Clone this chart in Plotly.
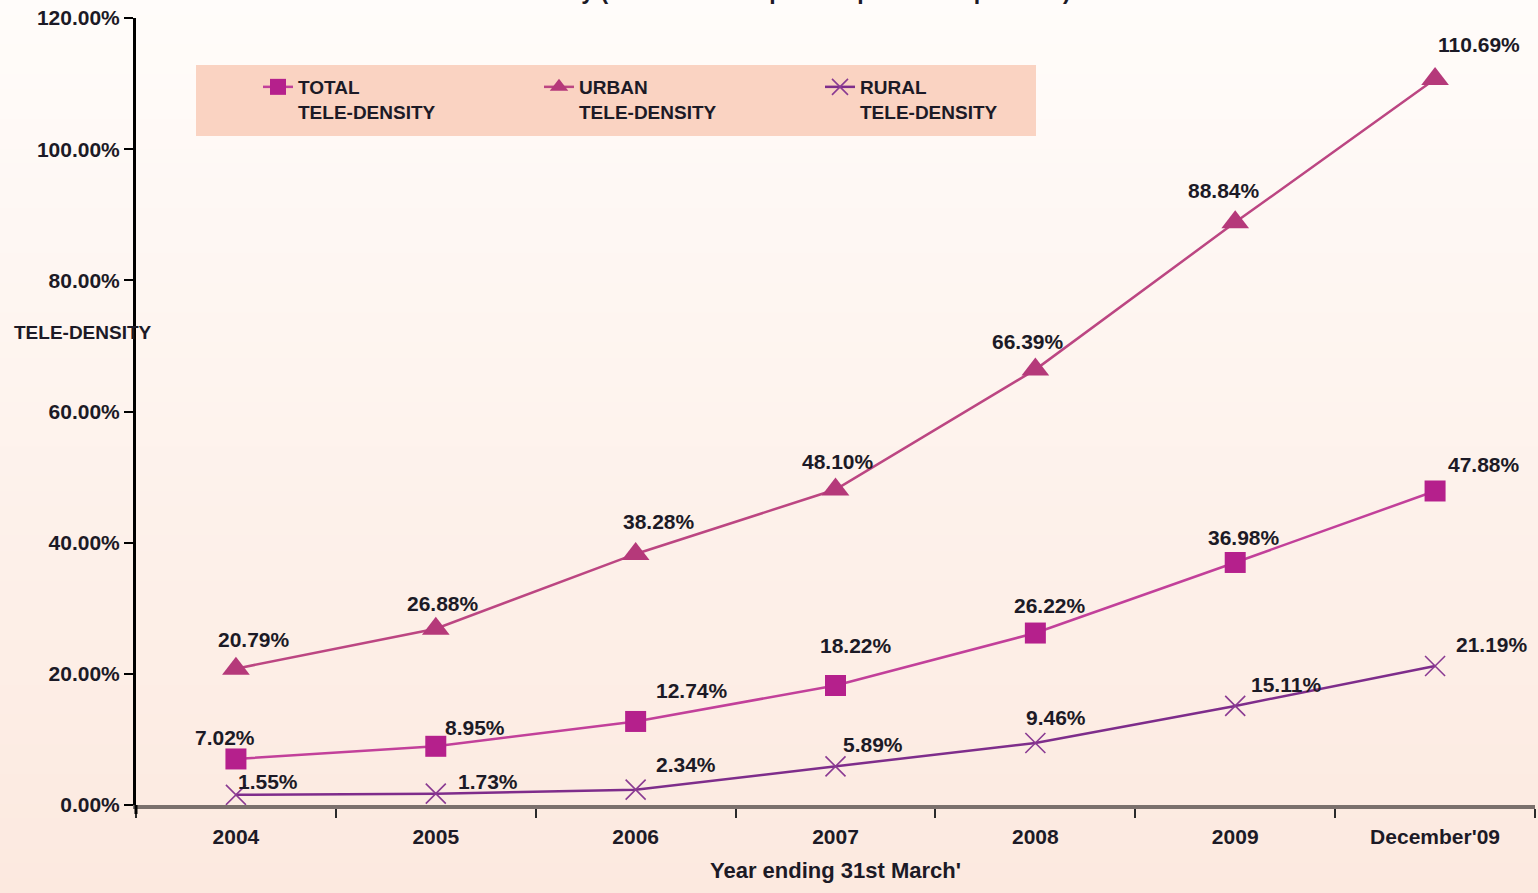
import plotly.graph_objects as go

categories = ["2004", "2005", "2006", "2007", "2008", "2009", "December'09"]
total = [7.02, 8.95, 12.74, 18.22, 26.22, 36.98, 47.88]
urban = [20.79, 26.88, 38.28, 48.10, 66.39, 88.84, 110.69]
rural = [1.55, 1.73, 2.34, 5.89, 9.46, 15.11, 21.19]
y_ticks = [0, 20, 40, 60, 80, 100, 120]

# label offsets in pixels (dx, dy) relative to each point - styling only
total_off = [(-11, 21), (39, 19), (56, 31), (20, 40), (15, 28), (9, 25), (49, 26)]
urban_off = [(18, 29), (7, 25), (23, 32), (2, 28), (-7, 28), (-11, 32), (44, 35)]
rural_off = [(32, 13), (52, 12), (50, 25), (37, 22), (21, 25), (51, 21), (57, 22)]

FONT = "Liberation Sans"
TXT = "#1c1a26"

W, H = 1538, 893
L, R, T, B = 136, 3, 18, 88
pw, ph = W - L - R, H - T - B

def px_x(p):
    return (p - L) / pw

def px_y(p):
    return (H - B - p) / ph

fig = go.Figure()

fig.add_trace(go.Scatter(
    x=categories, y=total, mode="lines+markers",
    name="TOTAL<br>TELE-DENSITY",
    line=dict(color="#C2409A", width=2.5),
    marker=dict(symbol="square", size=21, color="#B5208C"),
))
fig.add_trace(go.Scatter(
    x=categories, y=urban, mode="lines+markers",
    name="URBAN<br>TELE-DENSITY",
    line=dict(color="#BC4682", width=2.5),
    marker=dict(symbol="triangle-up", size=24, color="#B5397A"),
))
fig.add_trace(go.Scatter(
    x=categories, y=rural, mode="lines+markers",
    name="RURAL<br>TELE-DENSITY",
    line=dict(color="#7E2D8B", width=2.5),
    marker=dict(symbol="x-thin-open", size=20, color="#8A3A92",
                line=dict(width=1.6, color="#8A3A92")),
))

annotations = []
for vals, offs in ((total, total_off), (urban, urban_off), (rural, rural_off)):
    for i, (v, (dx, dy)) in enumerate(zip(vals, offs)):
        annotations.append(dict(
            x=i, y=v, xref="x", yref="y", text=f"{v:.2f}%",
            showarrow=False, xshift=dx, yshift=dy,
            font=dict(family=FONT, size=21, color=TXT, weight="bold"),
        ))

annotations.append(dict(
    x=px_x(12), y=px_y(333), xref="paper", yref="paper",
    text="TELE-DENSITY", showarrow=False, xanchor="left", yanchor="middle",
    font=dict(family=FONT, size=19, color=TXT, weight="bold"),
))
annotations.append(dict(
    x=px_x(765), y=px_y(-9), xref="paper", yref="paper",
    text="Tele-Density (Number of telephones per 100 Population)",
    showarrow=False, xanchor="center", yanchor="middle",
    font=dict(family=FONT, size=23, color=TXT, weight="bold"),
))

# background gradient bands
shapes = []
n = 60
top_c = (255, 252, 250)
bot_c = (252, 233, 223)
y_top, y_bot = px_y(0), px_y(H)
for i in range(n):
    t = (i + 0.5) / n
    col = tuple(round(top_c[k] + (bot_c[k] - top_c[k]) * t) for k in range(3))
    y0 = y_top + (y_bot - y_top) * i / n
    y1 = y_top + (y_bot - y_top) * (i + 1) / n
    shapes.append(dict(type="rect", xref="paper", yref="paper",
                       x0=px_x(0), x1=px_x(W), y0=y0, y1=y1 - 0.002,
                       fillcolor="rgb(%d,%d,%d)" % col, line=dict(width=0),
                       layer="below"))
# legend box
shapes.append(dict(type="rect", xref="paper", yref="paper",
                   x0=px_x(196), x1=px_x(1036), y0=px_y(136), y1=px_y(65),
                   fillcolor="#FAD3C2", line=dict(width=0), layer="below"))
# y-axis line extension below the x-axis
shapes.append(dict(type="line", xref="paper", yref="paper",
                   x0=0, x1=0, y0=0, y1=px_y(814),
                   line=dict(color="black", width=3)))

fig.update_layout(
    width=W, height=H,
    margin=dict(l=L, r=R, t=T, b=B),
    paper_bgcolor="#FDF0EA",
    plot_bgcolor="rgba(0,0,0,0)",
    font=dict(family=FONT, size=21, color=TXT),
    showlegend=True,
    legend=dict(
        orientation="h", x=px_x(258), y=px_y(68), xanchor="left", yanchor="top",
        bgcolor="rgba(0,0,0,0)", entrywidth=236, entrywidthmode="pixels",
        valign="top", font=dict(family=FONT, size=19, color=TXT, weight="bold"),
    ),
    annotations=annotations,
    shapes=shapes,
    xaxis=dict(
        type="category", range=[-0.5, 6.5], showgrid=False, zeroline=False,
        showline=True, linecolor="#7A706C", linewidth=4,
        ticks="outside", tickson="boundaries", ticklen=9, tickwidth=2,
        tickcolor="#2a2a2a", ticklabelstandoff=10,
        tickfont=dict(family=FONT, size=21, color=TXT, weight="bold"),
        title=dict(text="Year ending 31st March'", standoff=16,
                   font=dict(family=FONT, size=22, color=TXT, weight="bold")),
    ),
    yaxis=dict(
        range=[0, 120], tickvals=y_ticks, ticktext=[f"{v:.2f}%" for v in y_ticks],
        showgrid=False, zeroline=False, showline=True, linecolor="black",
        linewidth=3, ticks="outside", ticklen=9, tickwidth=2, tickcolor="black",
        tickfont=dict(family=FONT, size=21, color=TXT, weight="bold"),
    ),
)

fig.write_html(
    "out.html",
    config={"displayModeBar": False},
    post_script="document.body.style.margin='0';document.body.style.background='#FDF0EA';",
)
